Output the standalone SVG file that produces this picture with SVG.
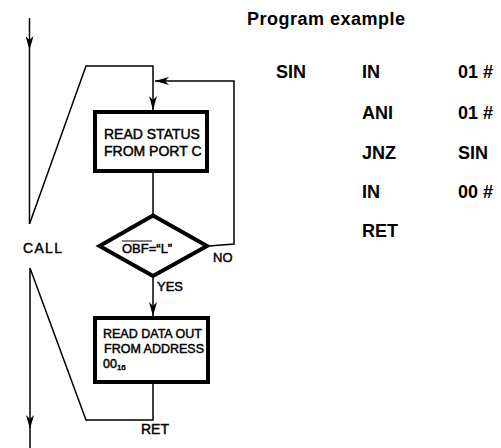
<svg xmlns="http://www.w3.org/2000/svg" width="501" height="448" viewBox="0 0 501 448">
<defs>
<marker id="arr" viewBox="0 0 14 8" refX="14" refY="4" markerWidth="14" markerHeight="8" markerUnits="userSpaceOnUse" orient="auto">
<path d="M0,0 L14,4 L0,8 L4,4 Z" fill="#000"/>
</marker>
<style>
.ln{fill:none;stroke:#000;stroke-width:1.5}
.ar{fill:none;stroke:#000;stroke-width:1.5;marker-end:url(#arr)}
.box{fill:#fff;stroke:#000;stroke-width:4}
.t{font-family:"Liberation Sans",Arial,sans-serif;fill:#000;stroke:#000;stroke-width:0.45}
.p{font-family:"Liberation Sans",Arial,sans-serif;font-weight:bold;font-size:18px;fill:#000}
</style>
</defs>
<rect width="501" height="448" fill="#fff"/>
<g id="connectors">
<path class="ar" d="M29.5,18 V50"/>
<path class="ln" d="M29.5,50 V224"/>
<path class="ln" d="M29.5,224 L86,66 H153 V96"/>
<path class="ar" d="M153,96 V110"/>
<path class="ln" d="M209,246 L234,244 V81 H170"/>
<path class="ar" d="M170,81 H155"/>
<path class="ln" d="M153,173 V214"/>
<path class="ln" d="M153,278 V300"/>
<path class="ar" d="M153,300 V316"/>
<path class="ln" d="M153,384 V420 H86 L30,268 V414"/>
<path class="ar" d="M30,414 V429"/>
<path class="ln" d="M30,429 V448"/>
</g>
<g id="readStatus">
<rect class="box" x="95" y="112" width="112" height="59"/>
<text class="t" x="104" y="139" font-size="14">READ STATUS</text>
<text class="t" x="104" y="156" font-size="14">FROM PORT C</text>
</g>
<g id="decision">
<path class="box" d="M153,215.5 L207,246 L153,276 L99.5,246 Z" stroke-linejoin="miter"/>
<text class="t" x="122" y="253" font-size="13">OBF=“L”</text>
<line x1="122" y1="241" x2="152" y2="241" stroke="#000" stroke-width="1"/>
<text class="t" x="213" y="262" font-size="13">NO</text>
<text class="t" x="157" y="291" font-size="13">YES</text>
</g>
<g id="readData">
<rect class="box" x="95" y="318" width="113" height="64"/>
<text class="t" x="103" y="338" font-size="12.5">READ DATA OUT</text>
<text class="t" x="104" y="353" font-size="12.5">FROM ADDRESS</text>
<text class="t" x="103" y="368" font-size="12.5">00<tspan font-size="8" dy="2">16</tspan></text>
</g>
<g id="labels">
<text class="t" x="23" y="253" font-size="14" letter-spacing="1.3">CALL</text>
<text class="t" x="141" y="434" font-size="14">RET</text>
</g>
<g id="program">
<text class="p" x="247" y="25" letter-spacing="0.5">Program example</text>
<text class="p" x="276" y="78">SIN</text>
<text class="p" x="362" y="78">IN</text>
<text class="p" x="458" y="78">01 #</text>
<text class="p" x="362" y="119">ANI</text>
<text class="p" x="458" y="119">01 #</text>
<text class="p" x="362" y="159">JNZ</text>
<text class="p" x="458" y="159">SIN</text>
<text class="p" x="362" y="198">IN</text>
<text class="p" x="458" y="198">00 #</text>
<text class="p" x="362" y="237">RET</text>
</g>
</svg>
